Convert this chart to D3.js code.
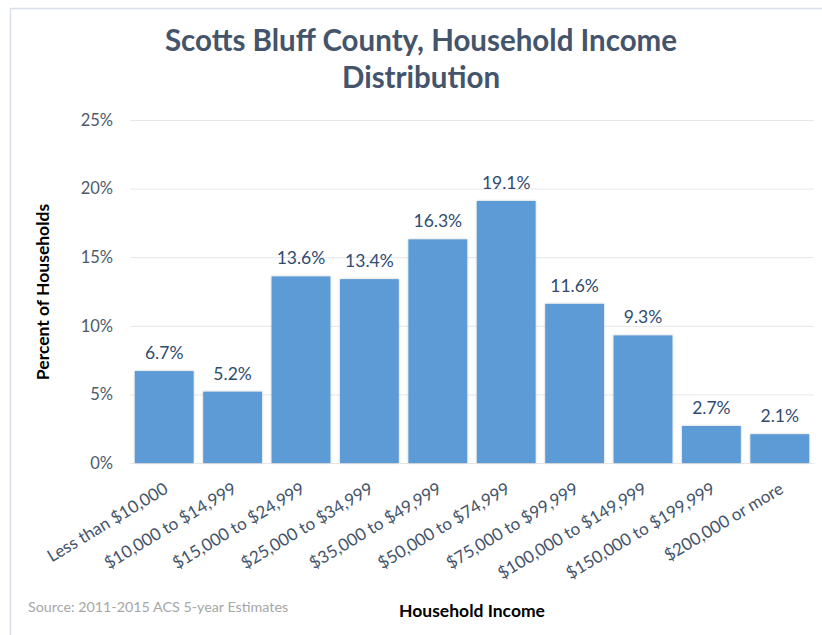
<!DOCTYPE html>
<html>
<head>
<meta charset="utf-8">
<script src="https://cdn.jsdelivr.net/npm/d3@7"></script>
<style>
  html, body { margin: 0; padding: 0; background: #fff; }
  svg { display: block; }
</style>
</head>
<body>
<svg id="chart" width="822" height="635"></svg>
<script>
// Household income brackets and share of households in each (percent)
const categories = [
  "Less than $10,000",
  "$10,000 to $14,999",
  "$15,000 to $24,999",
  "$25,000 to $34,999",
  "$35,000 to $49,999",
  "$50,000 to $74,999",
  "$75,000 to $99,999",
  "$100,000 to $149,999",
  "$150,000 to $199,999",
  "$200,000 or more"
];
const shares = [6.7, 5.2, 13.6, 13.4, 16.3, 19.1, 11.6, 9.3, 2.7, 2.1];
const yTicks = [0, 5, 10, 15, 20, 25];

const titleLines = ["Scotts Bluff County, Household Income", "Distribution"];
const xTitle = "Household Income";
const yTitle = "Percent of Households";
const sourceNote = "Source: 2011-2015 ACS 5-year Estimates";

const W = 822, H = 635;
const plot = { left: 130, right: 814, top: 120, bottom: 463 };
const font = "Lato, 'Open Sans', sans-serif";
const textBlue = "#44546A";
const barColor = "#5B9BD5";

const svg = d3.select("#chart");

// soft shadow under bars
const defs = svg.append("defs");
const f = defs.append("filter").attr("id", "barShadow")
  .attr("x", "-10%").attr("y", "-10%").attr("width", "120%").attr("height", "120%");
f.append("feDropShadow").attr("dx", 0).attr("dy", 0)
  .attr("stdDeviation", 1).attr("flood-color", "#000").attr("flood-opacity", 0.25);

// chart frame (top and left edges visible)
svg.append("path")
  .attr("d", `M10.5,${H} V8.5 H${W}`)
  .attr("fill", "none").attr("stroke", "#D9DEE8").attr("stroke-width", 1.5);

const x = d3.scaleBand()
  .domain(categories)
  .range([plot.left, plot.right])
  .paddingInner(0.14)
  .paddingOuter(0.07);

const y = d3.scaleLinear()
  .domain([0, 25])
  .range([plot.bottom, plot.top]);

// gridlines and y tick labels
const yAxis = d3.axisLeft(y)
  .tickValues(yTicks)
  .tickSize(-(plot.right - plot.left))
  .tickPadding(17)
  .tickFormat(d => d + "%");

const gy = svg.append("g")
  .attr("transform", `translate(${plot.left},0)`)
  .call(yAxis);
gy.select(".domain").remove();
gy.selectAll(".tick line")
  .attr("stroke", "#E4E6EA").attr("stroke-width", 1);
gy.selectAll(".tick text")
  .attr("fill", "#4D5A6C")
  .style("font-family", font)
  .style("font-size", "16.5px");

// bars
svg.append("g").selectAll("rect")
  .data(shares)
  .join("rect")
  .attr("x", (d, i) => x(categories[i]))
  .attr("y", d => y(d))
  .attr("width", x.bandwidth())
  .attr("height", d => y(0) - y(d))
  .attr("fill", barColor)
  .attr("filter", "url(#barShadow)");

// value labels
svg.append("g").selectAll("text")
  .data(shares)
  .join("text")
  .attr("x", (d, i) => x(categories[i]) + x.bandwidth() / 2)
  .attr("y", d => y(d) - 12)
  .attr("text-anchor", "middle")
  .attr("fill", "#2F4B70")
  .style("font-family", font)
  .style("font-size", "17.5px")
  .text(d => d.toFixed(1) + "%");

// x category labels, rotated
svg.append("g").selectAll("text")
  .data(categories)
  .join("text")
  .attr("transform", d => `translate(${x(d) + x.bandwidth() / 2 + 5},${plot.bottom + 29}) rotate(-31)`)
  .attr("text-anchor", "end")
  .attr("fill", textBlue)
  .style("font-family", font)
  .style("font-size", "17px")
  .text(d => d);

// title
svg.append("text")
  .attr("x", 421).attr("y", 51)
  .attr("text-anchor", "middle")
  .attr("fill", textBlue)
  .style("font-family", font)
  .style("font-weight", "bold")
  .style("font-size", "29.5px")
  .selectAll("tspan")
  .data(titleLines)
  .join("tspan")
  .attr("x", 421)
  .attr("dy", (d, i) => i === 0 ? 0 : 37)
  .text(d => d);

// axis titles
svg.append("text")
  .attr("transform", `translate(49,292) rotate(-90)`)
  .attr("text-anchor", "middle")
  .attr("fill", "#000")
  .style("font-family", font)
  .style("font-weight", "bold")
  .style("font-size", "17.5px")
  .text(yTitle);

svg.append("text")
  .attr("x", 472).attr("y", 617)
  .attr("text-anchor", "middle")
  .attr("fill", "#000")
  .style("font-family", font)
  .style("font-weight", "bold")
  .style("font-size", "17.5px")
  .text(xTitle);

// source note
svg.append("text")
  .attr("x", 28).attr("y", 612)
  .attr("fill", "#A6A6A6")
  .style("font-family", font)
  .style("font-size", "14.3px")
  .text(sourceNote);
</script>
</body>
</html>
